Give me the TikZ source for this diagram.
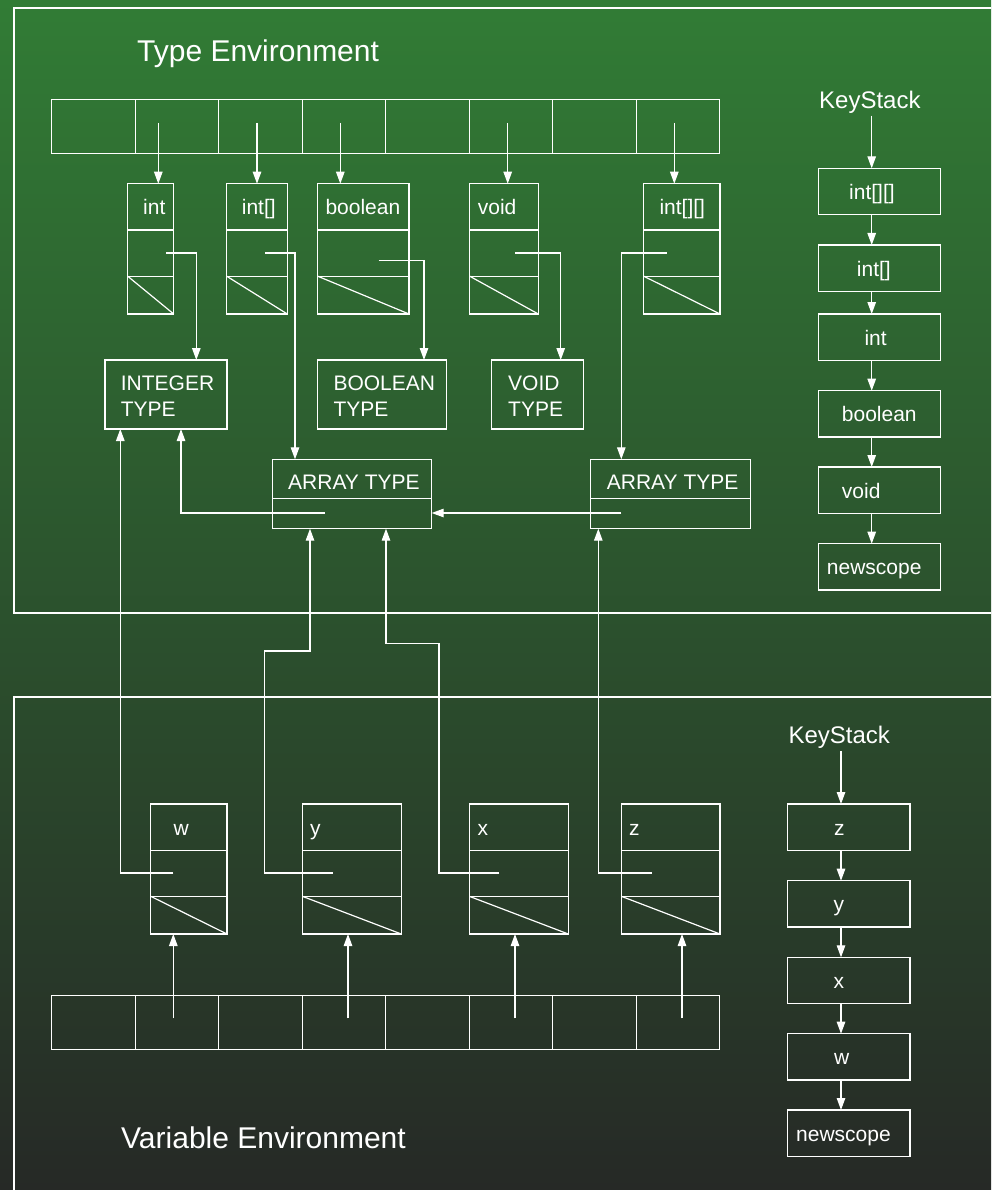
\documentclass[tikz,border=0pt]{standalone}
\usepackage{fontspec}
\setmainfont{Liberation Sans}
\usetikzlibrary{arrows.meta,fit,calc}
\definecolor{bgtop}{RGB}{49,124,53}
\definecolor{bgmid}{RGB}{45,92,48}
\definecolor{bgbot}{RGB}{38,41,38}
\tikzset{
  ln/.style={draw=white, line width=1.2pt},
  box/.style={ln, inner sep=0pt, outer sep=0pt},
  arr/.style={ln, -{Triangle[length=12pt,width=8.5pt]}},
  frame/.style={draw=white, line width=2pt},
  lbl/.style={text=white, inner sep=0pt, anchor=base west, font=\fontsize{21}{26}\selectfont},
  big/.style={lbl, font=\fontsize{30}{36}\selectfont},
  kst/.style={lbl, font=\fontsize{24}{29}\selectfont},
}
% name, x1, y1, x2, y2 : record box with three compartments
\newcommand\tribox[5]{%
  \node[box, fit={(#2,#3) (#4,#5)}] (#1) {};
  \draw[ln] ($(#1.north west)!0.355!(#1.south west)$) -- ($(#1.north east)!0.355!(#1.south east)$);
  \draw[ln] ($(#1.north west)!0.71!(#1.south west)$) -- ($(#1.north east)!0.71!(#1.south east)$);
  \draw[ln] ($(#1.north west)!0.71!(#1.south west)$) -- (#1.south east);
}
\newcommand\plainbox[5]{%
  \node[box, fit={(#2,#3) (#4,#5)}] (#1) {};
}
\begin{document}
\begin{tikzpicture}[x=1pt,y=-1pt]
\useasboundingbox (0,0) rectangle (991,1190);
\fill[top color=bgtop, middle color=bgmid, bottom color=bgbot] (0,0) rectangle (991,1190);
\clip (0,0) rectangle (991,1190);

% frames
\draw[frame] (13.7,8) rectangle (1005,612.5);
\draw[frame] (13.7,697.3) rectangle (1005,1205);

% titles
\node[big] (titleT) at (137,61.7) {Type Environment};
\node[big] (titleV) at (121,1148.3) {Variable Environment};

% ---------------- type environment hash table
\foreach \i in {0,...,7}
  \node[box, minimum width=83.5pt, minimum height=54.4pt, anchor=north west] (h\i) at ({51.7+83.5*\i},99.3) {};
\coordinate (ha1) at (158.3,123);
\coordinate (ha2) at (257,123);
\coordinate (ha3) at (340.3,123);
\coordinate (ha5) at (507.7,123);
\coordinate (ha7) at (674.3,123);

% type records
\tribox{intB}{127.7}{183.7}{173.7}{314}
\tribox{intaB}{226.7}{183.7}{287.3}{314}
\tribox{boolB}{317.7}{183.7}{409}{314}
\tribox{voidB}{469.7}{183.7}{538.3}{314}
\tribox{intbB}{643.7}{183.7}{720}{314}
\node[lbl] (lInt) at (143,215) {int};
\node[lbl] (lInta) at (241.7,215) {int[]};
\node[lbl] (lBool) at (325.3,215) {boolean};
\node[lbl] (lVoid) at (477.7,215) {void};
\node[lbl] (lIntb) at (659.3,215) {int[][]};

\draw[arr] (ha1) -- (ha1 |- intB.north);
\draw[arr] (ha2) -- (ha2 |- intaB.north);
\draw[arr] (ha3) -- (ha3 |- boolB.north);
\draw[arr] (ha5) -- (ha5 |- voidB.north);
\draw[arr] (ha7) -- (ha7 |- intbB.north);

% type objects
\plainbox{intT}{105}{360}{227}{429}
\plainbox{boolT}{317.7}{360}{446.7}{429}
\plainbox{voidT}{491.7}{360}{583.7}{429}
\plainbox{arrT1}{272.3}{459.3}{431.7}{528.7}
\plainbox{arrT2}{590.7}{459.3}{750.3}{528.7}
\draw[ln] (arrT1.west |- 0,498.3) -- (arrT1.east |- 0,498.3);
\draw[ln] (arrT2.west |- 0,498.3) -- (arrT2.east |- 0,498.3);
\node[lbl] (lIT1) at (120.7,390.7) {INTEGER};
\node[lbl] (lIT2) at (120.7,416.7) {TYPE};
\node[lbl] (lBT1) at (333.3,390.7) {BOOLEAN};
\node[lbl] (lBT2) at (333.3,416.7) {TYPE};
\node[lbl] (lVT1) at (508,390.7) {VOID};
\node[lbl] (lVT2) at (508,416.7) {TYPE};
\node[lbl] (lAT1) at (288,489.3) {ARRAY TYPE};
\node[lbl] (lAT2) at (606.7,489.3) {ARRAY TYPE};

% pointers from type records
\coordinate (pInt) at (166.3,253);
\coordinate (pInta) at (265,253);
\coordinate (pBool) at (378.7,260.3);
\coordinate (pVoid) at (515,253);
\coordinate (pIntb) at (666.7,253);
\draw[arr] (pInt) -| ([xshift=91.3pt]intT.north west);
\draw[arr] (pInta) -| ([xshift=22.7pt]arrT1.north west);
\draw[arr] (pBool) -| ([xshift=106.3pt]boolT.north west);
\draw[arr] (pVoid) -| ([xshift=69pt]voidT.north west);
\draw[arr] (pIntb) -| ([xshift=30.6pt]arrT2.north west);

% pointers from array types
\coordinate (pA1) at (325,513);
\coordinate (pA2) at (621.3,513);
\draw[arr] (pA1) -| ([xshift=76pt]intT.south west);
\draw[arr] (pA2) -- (pA2 -| arrT1.east);

% ---------------- type key stack
\node[kst] (ksT) at (819,108.3) {KeyStack};
\coordinate (ksTa) at (871.7,115.7);
\plainbox{s1}{818.3}{168.3}{940.3}{214.6}
\plainbox{s2}{818.3}{245}{940.3}{291.3}
\plainbox{s3}{818.3}{314}{940.3}{360.3}
\plainbox{s4}{818.3}{390.7}{940.3}{437}
\plainbox{s5}{818.3}{467}{940.3}{513.3}
\plainbox{s6}{818.3}{543.7}{940.3}{590}
\node[lbl] (ls1) at (849,199.3) {int[][]};
\node[lbl] (ls2) at (856.7,276) {int[]};
\node[lbl] (ls3) at (864.3,345) {int};
\node[lbl] (ls4) at (841.7,421.7) {boolean};
\node[lbl] (ls5) at (841.7,498) {void};
\node[lbl] (ls6) at (826.7,574.7) {newscope};
\draw[arr] (ksTa) -- (ksTa |- s1.north);
\draw[arr] (s1.south -| ksTa) -- (s2.north -| ksTa);
\draw[arr] (s2.south -| ksTa) -- (s3.north -| ksTa);
\draw[arr] (s3.south -| ksTa) -- (s4.north -| ksTa);
\draw[arr] (s4.south -| ksTa) -- (s5.north -| ksTa);
\draw[arr] (s5.south -| ksTa) -- (s6.north -| ksTa);

% ---------------- variable environment
\tribox{wB}{150.7}{804}{227}{934}
\tribox{yB}{302.3}{804}{401.3}{934}
\tribox{xB}{469.3}{804}{568.3}{934}
\tribox{zB}{621.3}{804}{720}{934}
\node[lbl] (lw) at (173.3,835) {w};
\node[lbl] (ly) at (310,835) {y};
\node[lbl] (lx) at (477.3,835) {x};
\node[lbl] (lz) at (629,835) {z};

\coordinate (pW) at (173.3,873);
\coordinate (pY) at (332.7,873);
\coordinate (pX) at (499.3,873);
\coordinate (pZ) at (651.7,873);
\draw[arr] (pW) -| ([xshift=15.3pt]intT.south west);
\draw[arr] (pY) -| (264.3,651) -| ([xshift=37.7pt]arrT1.south west);
\draw[arr] (pX) -| (439,643.3) -| ([xshift=113.7pt]arrT1.south west);
\draw[arr] (pZ) -| ([xshift=7.6pt]arrT2.south west);

% variable hash table
\foreach \i in {0,...,7}
  \node[box, minimum width=83.5pt, minimum height=53.6pt, anchor=north west] (v\i) at ({51.7+83.5*\i},995.7) {};
\coordinate (va1) at (173.3,1018.3);
\coordinate (va3) at (348,1018.3);
\coordinate (va5) at (515,1018.3);
\coordinate (va7) at (682,1018.3);
\draw[arr] (va1) -- (va1 |- wB.south);
\draw[arr] (va3) -- (va3 |- yB.south);
\draw[arr] (va5) -- (va5 |- xB.south);
\draw[arr] (va7) -- (va7 |- zB.south);

% variable key stack
\node[kst] (ksV) at (788.3,743.3) {KeyStack};
\coordinate (ksVa) at (841,751);
\plainbox{t1}{787.7}{804}{910}{850.3}
\plainbox{t2}{787.7}{880.7}{910}{927}
\plainbox{t3}{787.7}{957.3}{910}{1003.6}
\plainbox{t4}{787.7}{1033.7}{910}{1080}
\plainbox{t5}{787.7}{1110}{910}{1156.3}
\node[lbl] (lt1) at (834,835) {z};
\node[lbl] (lt2) at (833.3,911.7) {y};
\node[lbl] (lt3) at (833.3,988.3) {x};
\node[lbl] (lt4) at (834,1064.7) {w};
\node[lbl] (lt5) at (796,1141) {newscope};
\draw[arr] (ksVa) -- (ksVa |- t1.north);
\draw[arr] (t1.south -| ksVa) -- (t2.north -| ksVa);
\draw[arr] (t2.south -| ksVa) -- (t3.north -| ksVa);
\draw[arr] (t3.south -| ksVa) -- (t4.north -| ksVa);
\draw[arr] (t4.south -| ksVa) -- (t5.north -| ksVa);
\end{tikzpicture}
\end{document}
